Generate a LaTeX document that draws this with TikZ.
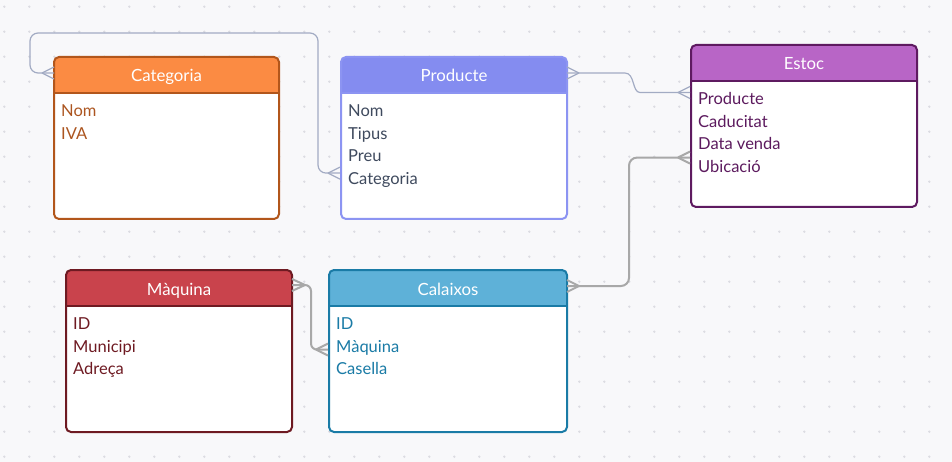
\documentclass[tikz,border=0pt]{standalone}
\usepackage{fontspec}
\setmainfont{Lato}
\usetikzlibrary{calc,fit}
\definecolor{bgc}{HTML}{F8F8FA}
\definecolor{dotc}{HTML}{DCDCE2}
\definecolor{slatec}{HTML}{A2ABC3}
\definecolor{grayl}{HTML}{A8A8A8}
\definecolor{catF}{HTML}{FB8B43}\definecolor{catB}{HTML}{B2561B}\definecolor{catT}{HTML}{AC5520}
\definecolor{proF}{HTML}{848CF0}\definecolor{proB}{HTML}{8C94F2}\definecolor{proT}{HTML}{3F4A5E}
\definecolor{estF}{HTML}{B865C6}\definecolor{estB}{HTML}{5E1A60}\definecolor{estT}{HTML}{5C1A5E}
\definecolor{maqF}{HTML}{C9434C}\definecolor{maqB}{HTML}{6E1A22}\definecolor{maqT}{HTML}{6E1A22}
\definecolor{calF}{HTML}{5EB1D8}\definecolor{calB}{HTML}{1A7BA6}\definecolor{calT}{HTML}{1A7BA6}
\newcommand\ERbox[9]{%
 \fill[white, rounded corners=5pt] (#2,#3) rectangle (#4,#5);
 \fill[#6] (#2,#3+36) [rounded corners=5pt] -- (#2,#3) -- (#4,#3) [sharp corners] -- (#4,#3+36) -- cycle;
 \draw[#7, line width=2pt] (#2,#3+36) -- (#4,#3+36);
 \node[draw=#7, line width=2pt, rounded corners=5pt, inner sep=0pt, fit={(#2,#3) (#4,#5)}] (#1) {};
 \node[titletext, anchor=base] (#1-t) at ({(#2+#4)/2},#3+25) {#9};
 \coordinate (#1-h) at (#2,#3+16);
 \coordinate (#1-hr) at (#4,#3+16);
}
\newcommand\ERrows[4]{% name, x1, y1, list
 \foreach \t [count=\i] in {#4} {
   \node[rowtext, text=#1T, anchor=base west] (#1-\i) at (#2+7,#3+59.5+22.7*\i-22.7) {\t};
 }
}
\newcommand\crowfoot[3]{\draw[#1] ($(#2)+(#3,0)$) -- ($(#2)+(0,-6)$) ($(#2)+(#3,0)$) -- ($(#2)+(0,6)$);}
\tikzset{
 titletext/.style={text=white, font=\fontsize{16.8}{19}\selectfont, inner sep=0pt},
 rowtext/.style={font=\fontsize{16.5}{19}\selectfont, inner sep=0pt},
 slate/.style={draw=slatec, line width=1.2pt},
 graylink/.style={draw=grayl, line width=2pt},
}
\begin{document}
\begin{tikzpicture}[x=1pt,y=-1pt]
\fill[bgc] (0,0) rectangle (952,462);
\useasboundingbox (0,0) rectangle (952,462);
\foreach \i in {0,...,37} \foreach \j in {0,...,18} \fill[dotc] (4.3+25*\i,6.7+25*\j) circle (1.3pt);

\ERbox{cat}{54}{57}{279}{219}{catF}{catB}{}{Categoria}
\ERrows{cat}{54}{57}{Nom,IVA}
\ERbox{pro}{341}{57}{567}{219}{proF}{proB}{}{Producte}
\ERrows{pro}{341}{57}{Nom,Tipus,Preu,Categoria}
\ERbox{est}{691}{45}{917}{207}{estF}{estB}{}{Estoc}
\ERrows{est}{691}{45}{Producte,Caducitat,Data venda,Ubicació}
\ERbox{maq}{66}{270}{292}{432}{maqF}{maqB}{}{Màquina}
\ERrows{maq}{66}{270}{ID,Municipi,Adreça}
\ERbox{cal}{329}{270}{567}{432}{calF}{calB}{}{Calaixos}
\ERrows{cal}{329}{270}{ID,Màquina,Casella}

% connection points
\coordinate (pA) at ($(pro.west |- pro-4)+(0,-7)$);
\coordinate (cA) at (cat-h);
\coordinate (pB) at (pro-hr);
\coordinate (eA) at ($(est.west |- est-1)+(0,-6)$);
\coordinate (cR) at (cal-hr);
\coordinate (eB) at ($(est.west |- est-4)+(0,-9)$);
\coordinate (mR) at ($(maq-hr)+(0,-1)$);
\coordinate (cM) at ($(cal.west |- cal-2)+(0,2)$);
\coordinate (r1) at (318,33);
\coordinate (r2) at (30,33);

% Producte.Categoria -> Categoria
\draw[slate, rounded corners=8pt] (pA) -| (r1) -- (r2) |- (cA);
\crowfoot{slate}{pA}{-12}
\crowfoot{slate}{cA}{-12}
% Producte -> Estoc.Producte
\draw[slate] (pB) -- ++(58,0) .. controls +(10,0) and +(-8,0) .. ($(eA)+(-50,0)$) -- (eA);
\crowfoot{slate}{pB}{12}
\crowfoot{slate}{eA}{-12}
% Calaixos -> Estoc.Ubicacio
\draw[graylink, rounded corners=8pt] (cR) -- ($(cR)+(62,0)$) |- (eB);
\crowfoot{graylink}{cR}{12}
\crowfoot{graylink}{eB}{-12}
% Maquina -> Calaixos.Maquina
\draw[graylink, rounded corners=6pt] (mR) -- ($(mR)+(19,0)$) |- (cM);
\crowfoot{graylink}{mR}{13}
\crowfoot{graylink}{cM}{-12}
\end{tikzpicture}
\end{document}
